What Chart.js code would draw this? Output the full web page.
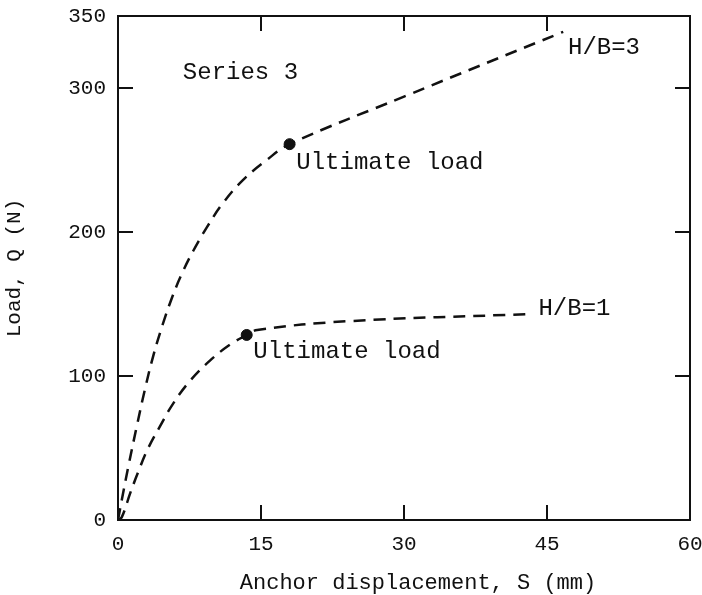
<!DOCTYPE html>
<html>
<head>
<meta charset="utf-8">
<script src="https://cdn.jsdelivr.net/npm/chart.js@4/dist/chart.umd.min.js"></script>
<style>
  html, body { margin: 0; padding: 0; background: #fff; }
  #wrap { width: 702px; height: 595px; }
</style>
</head>
<body>
<div id="wrap"><canvas id="chart" width="702" height="595"></canvas></div>
<script>
// values
const xTicks = [0, 15, 30, 45, 60];
const yTicks = [0, 100, 200, 300, 350];

const hb3X = [0, 0.4, 1.05, 2.0, 2.8, 3.7, 4.7, 5.7, 6.7, 7.9, 9.3, 11.0, 13.1, 15.6, 18.0, 30.0, 46.7];
const hb3Y = [0, 14, 36, 66, 90, 114, 136, 155, 171, 187, 203, 220, 236, 250, 261, 294, 339];

const hb1X = [0, 0.4, 1.3, 2.1, 3.1, 4.4, 5.8, 7.6, 9.7, 11.8, 13.5, 14.6, 24.0, 43.0];
const hb1Y = [0, 2, 19, 33, 49, 65, 81, 97, 111, 122, 128.5, 132, 138, 143];

const ultimateX = [18.0, 13.5];
const ultimateY = [261, 128.5];

// text labels: [text, x, y]
const notes = [
    ['Series 3', 6.8, 311],
    ['Ultimate load', 18.7, 248],
    ['Ultimate load', 14.2, 117],
    ['H/B=3', 47.2, 328],
    ['H/B=1', 44.1, 147]
];
const xTitle = 'Anchor displacement, S (mm)';

const FONT = '"Liberation Mono", "DejaVu Sans Mono", monospace';

function toPoints(xs, ys) {
    return xs.map((x, i) => ({ x: x, y: ys[i] }));
}

// frame + inward ticks on all four sides, plus the text notes
const framePlugin = {
    id: 'frame',
    afterDatasetsDraw(chart) {
        const ctx = chart.ctx;
        const a = chart.chartArea;
        const xs = chart.scales.x, ys = chart.scales.y;
        ctx.save();
        ctx.strokeStyle = '#111';
        ctx.lineWidth = 2;
        ctx.setLineDash([]);
        ctx.strokeRect(a.left, a.top, a.right - a.left, a.bottom - a.top);

        const len = 15;
        ctx.beginPath();
        xTicks.slice(1, -1).forEach(v => {
            const px = xs.getPixelForValue(v);
            ctx.moveTo(px, a.bottom); ctx.lineTo(px, a.bottom - len);
            ctx.moveTo(px, a.top); ctx.lineTo(px, a.top + len);
        });
        yTicks.filter(v => v > 0 && v < 350).forEach(v => {
            const py = ys.getPixelForValue(v);
            ctx.moveTo(a.left, py); ctx.lineTo(a.left + len, py);
            ctx.moveTo(a.right, py); ctx.lineTo(a.right - len, py);
        });
        ctx.stroke();

        ctx.fillStyle = '#111';
        ctx.font = '24px ' + FONT;
        ctx.textAlign = 'left';
        ctx.textBaseline = 'middle';
        notes.forEach(n => {
            ctx.fillText(n[0], xs.getPixelForValue(n[1]), ys.getPixelForValue(n[2]));
        });

        // x axis title, sits a little right of centre in the original
        ctx.font = '22px ' + FONT;
        ctx.textAlign = 'center';
        ctx.fillText(xTitle, (a.left + a.right) / 2 + 14, a.bottom + 63);
        ctx.restore();
    }
};

const lineStyle = {
    borderColor: '#111',
    borderWidth: 2.5,
    borderDash: [12, 8],
    pointRadius: 0,
    fill: false,
    tension: 0.4
};

new Chart(document.getElementById('chart'), {
    type: 'scatter',
    data: {
        datasets: [
            Object.assign({ label: 'H/B=3', data: toPoints(hb3X, hb3Y), showLine: true }, lineStyle),
            Object.assign({ label: 'H/B=1', data: toPoints(hb1X, hb1Y), showLine: true }, lineStyle),
            {
                label: 'Ultimate load',
                data: toPoints(ultimateX, ultimateY),
                showLine: false,
                pointRadius: 5.5,
                pointBackgroundColor: '#111',
                pointBorderColor: '#111'
            }
        ]
    },
    options: {
        responsive: false,
        animation: false,
        layout: { padding: { top: 16, right: 12, left: 0, bottom: 0 } },
        plugins: { legend: { display: false }, tooltip: { enabled: false } },
        scales: {
            x: {
                type: 'linear',
                min: 0, max: 60,
                afterBuildTicks: s => { s.ticks = xTicks.map(v => ({ value: v })); },
                afterFit: s => { s.height = 75; s.paddingLeft = 0; s.paddingRight = 0; },
                grid: { display: false, drawTicks: false },
                border: { display: false },
                ticks: { color: '#111', font: { family: FONT, size: 21 }, padding: 12, maxRotation: 0 }
            },
            y: {
                type: 'linear',
                min: 0, max: 350,
                afterBuildTicks: s => { s.ticks = yTicks.map(v => ({ value: v })); },
                afterFit: s => { s.width = 118; s.paddingTop = 0; s.paddingBottom = 0; },
                grid: { display: false, drawTicks: false },
                border: { display: false },
                ticks: { color: '#111', font: { family: FONT, size: 21 }, padding: 12 },
                title: {
                    display: true,
                    text: 'Load, Q (N)',
                    color: '#111',
                    font: { family: FONT, size: 21 },
                    padding: { top: 2, bottom: 0 }
                }
            }
        }
    },
    plugins: [framePlugin]
});
</script>
</body>
</html>
